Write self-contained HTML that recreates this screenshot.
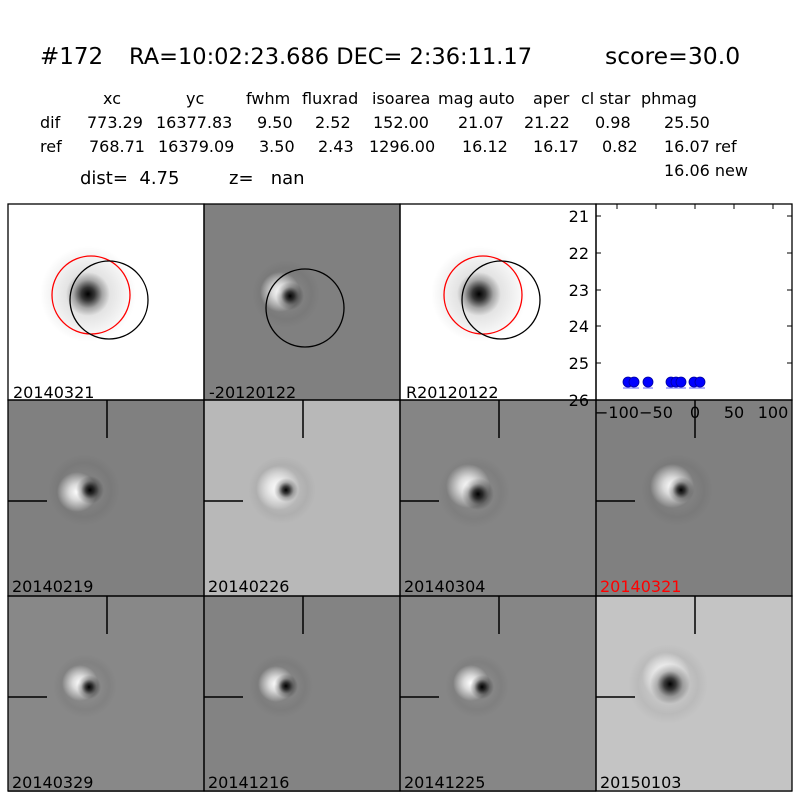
<!DOCTYPE html>
<html><head><meta charset="utf-8"><style>
body{margin:0;background:#fff;}
svg text{font-family:"DejaVu Sans","Liberation Sans",sans-serif;white-space:pre;}
</style></head><body>
<svg width="800" height="800" viewBox="0 0 800 800" xmlns="http://www.w3.org/2000/svg" xml:space="preserve">
<defs>
<radialGradient id="blk"><stop offset="0" stop-color="#000" stop-opacity="1"/><stop offset="0.3" stop-color="#000" stop-opacity="0.75"/><stop offset="0.65" stop-color="#000" stop-opacity="0.25"/><stop offset="1" stop-color="#000" stop-opacity="0"/></radialGradient>
<radialGradient id="wht"><stop offset="0" stop-color="#fff" stop-opacity="1"/><stop offset="0.4" stop-color="#fff" stop-opacity="0.7"/><stop offset="1" stop-color="#fff" stop-opacity="0"/></radialGradient>
<radialGradient id="halo"><stop offset="0" stop-color="#000" stop-opacity="0.2"/><stop offset="1" stop-color="#000" stop-opacity="0"/></radialGradient>
<radialGradient id="dring"><stop offset="0.5" stop-color="#000" stop-opacity="0"/><stop offset="0.75" stop-color="#000" stop-opacity="0.05"/><stop offset="1" stop-color="#000" stop-opacity="0"/></radialGradient>
</defs>
<rect width="800" height="800" fill="#fff"/>
<text x="40" y="64" font-size="23">#172</text>
<text x="129" y="64" font-size="22.5">RA=10:02:23.686 DEC= 2:36:11.17</text>
<text x="605" y="64" font-size="23.5">score=30.0</text>
<g font-size="16">
<text x="103" y="104">xc</text><text x="186" y="104">yc</text><text x="246" y="104">fwhm</text><text x="302" y="104">fluxrad</text><text x="372" y="104">isoarea</text><text x="438" y="104">mag auto</text><text x="533" y="104">aper</text><text x="581" y="104">cl star</text><text x="641" y="104">phmag</text>
<text x="40" y="128">dif</text><text x="87" y="128">773.29</text><text x="156" y="128">16377.83</text><text x="257" y="128">9.50</text><text x="315" y="128">2.52</text><text x="373" y="128">152.00</text><text x="458" y="128">21.07</text><text x="524" y="128">21.22</text><text x="595" y="128">0.98</text><text x="664" y="128">25.50</text>
<text x="40" y="152">ref</text><text x="89" y="152">768.71</text><text x="158" y="152">16379.09</text><text x="259" y="152">3.50</text><text x="318" y="152">2.43</text><text x="369" y="152">1296.00</text><text x="462" y="152">16.12</text><text x="533" y="152">16.17</text><text x="602" y="152">0.82</text><text x="664" y="152">16.07 ref</text>
<text x="664" y="176">16.06 new</text>
</g>
<text x="80" y="184" font-size="18">dist=  4.75</text>
<text x="229" y="184" font-size="18">z=   nan</text>

<rect x="8" y="204" width="196" height="196" fill="#fff"/>
<circle cx="88" cy="294" r="48" fill="url(#halo)"/>
<circle cx="88" cy="294" r="22" fill="url(#blk)"/>
<circle cx="91" cy="295" r="39" fill="none" stroke="#f00" stroke-width="1.3"/>
<circle cx="109" cy="300" r="39" fill="none" stroke="#000" stroke-width="1.3"/>
<rect x="204" y="204" width="196" height="196" fill="#808080"/>
<circle cx="286" cy="294" r="34" fill="url(#dring)"/>
<circle cx="280" cy="292" r="20" fill="url(#wht)"/>
<circle cx="290" cy="296" r="14" fill="url(#blk)"/>
<circle cx="305" cy="308" r="39" fill="none" stroke="#000" stroke-width="1.3"/>
<rect x="400" y="204" width="196" height="196" fill="#fff"/>
<circle cx="479" cy="294" r="48" fill="url(#halo)"/>
<circle cx="479" cy="294" r="22" fill="url(#blk)"/>
<circle cx="483" cy="295" r="39" fill="none" stroke="#f00" stroke-width="1.3"/>
<circle cx="501" cy="300" r="39" fill="none" stroke="#000" stroke-width="1.3"/>
<rect x="596" y="204" width="196" height="196" fill="#fff"/>

<rect x="8" y="400" width="196" height="196" fill="#808080"/>
<circle cx="84" cy="490" r="36" fill="url(#dring)"/>
<circle cx="77" cy="492" r="20" fill="url(#wht)"/>
<circle cx="90" cy="490" r="14" fill="url(#blk)"/>
<rect x="204" y="400" width="196" height="196" fill="#b8b8b8"/>
<circle cx="282" cy="490" r="34" fill="url(#dring)"/>
<circle cx="278" cy="488" r="22" fill="url(#wht)"/>
<circle cx="286" cy="490" r="12" fill="url(#blk)"/>
<rect x="400" y="400" width="196" height="196" fill="#858585"/>
<circle cx="474" cy="492" r="36" fill="url(#dring)"/>
<circle cx="468" cy="486" r="22" fill="url(#wht)"/>
<circle cx="478" cy="494" r="16" fill="url(#blk)"/>
<rect x="596" y="400" width="196" height="196" fill="#808080"/>
<circle cx="677" cy="490" r="36" fill="url(#dring)"/>
<circle cx="672" cy="486" r="22" fill="url(#wht)"/>
<circle cx="681" cy="490" r="13" fill="url(#blk)"/>

<rect x="8" y="596" width="196" height="196" fill="#888"/>
<circle cx="85" cy="686" r="32" fill="url(#dring)"/>
<circle cx="80" cy="683" r="18" fill="url(#wht)"/>
<circle cx="89" cy="687" r="12" fill="url(#blk)"/>
<rect x="204" y="596" width="196" height="196" fill="#838383"/>
<circle cx="281" cy="686" r="32" fill="url(#dring)"/>
<circle cx="276" cy="684" r="18" fill="url(#wht)"/>
<circle cx="286" cy="686" r="12" fill="url(#blk)"/>
<rect x="400" y="596" width="196" height="196" fill="#868686"/>
<circle cx="477" cy="686" r="32" fill="url(#dring)"/>
<circle cx="471" cy="683" r="18" fill="url(#wht)"/>
<circle cx="482" cy="687" r="12" fill="url(#blk)"/>
<rect x="596" y="596" width="196" height="196" fill="#c4c4c4"/>
<circle cx="668" cy="684" r="40" fill="url(#dring)"/>
<circle cx="666" cy="676" r="24" fill="url(#wht)"/>
<circle cx="670" cy="684" r="20" fill="url(#blk)"/>

<g stroke="#000" stroke-width="1.5">
<line x1="107" y1="400" x2="107" y2="438"/><line x1="8" y1="501" x2="47" y2="501"/>
<line x1="303" y1="400" x2="303" y2="438"/><line x1="204" y1="501" x2="243" y2="501"/>
<line x1="499" y1="400" x2="499" y2="438"/><line x1="400" y1="501" x2="439" y2="501"/>
<line x1="695" y1="400" x2="695" y2="438"/><line x1="596" y1="501" x2="635" y2="501"/>
<line x1="107" y1="596" x2="107" y2="634"/><line x1="8" y1="697" x2="47" y2="697"/>
<line x1="303" y1="596" x2="303" y2="634"/><line x1="204" y1="697" x2="243" y2="697"/>
<line x1="499" y1="596" x2="499" y2="634"/><line x1="400" y1="697" x2="439" y2="697"/>
<line x1="695" y1="596" x2="695" y2="634"/><line x1="596" y1="697" x2="635" y2="697"/>
</g>

<g stroke="#000" stroke-width="1">
<line x1="596" y1="216" x2="601" y2="216"/><line x1="596" y1="253" x2="601" y2="253"/><line x1="596" y1="290" x2="601" y2="290"/><line x1="596" y1="326" x2="601" y2="326"/><line x1="596" y1="363" x2="601" y2="363"/>
<line x1="792" y1="216" x2="787" y2="216"/><line x1="792" y1="253" x2="787" y2="253"/><line x1="792" y1="290" x2="787" y2="290"/><line x1="792" y1="326" x2="787" y2="326"/><line x1="792" y1="363" x2="787" y2="363"/>
<line x1="617" y1="204" x2="617" y2="209"/><line x1="656" y1="204" x2="656" y2="209"/><line x1="695" y1="204" x2="695" y2="209"/><line x1="734" y1="204" x2="734" y2="209"/><line x1="773" y1="204" x2="773" y2="209"/>
</g>
<g stroke="#6060ff" stroke-width="1">
<line x1="623" y1="388" x2="639" y2="388"/><line x1="643" y1="388" x2="653" y2="388"/><line x1="666" y1="388" x2="686" y2="388"/><line x1="689" y1="388" x2="705" y2="388"/>
</g>
<g fill="#00f" stroke="#0000a0" stroke-width="0.8">
<circle cx="628" cy="382" r="5"/><circle cx="634" cy="382" r="5"/><circle cx="648" cy="382" r="5"/><circle cx="671" cy="382" r="5"/><circle cx="676" cy="382" r="5"/><circle cx="681" cy="382" r="5"/><circle cx="694" cy="382" r="5"/><circle cx="700" cy="382" r="5"/>
</g>
<g font-size="16" text-anchor="end">
<text x="589" y="222">21</text><text x="589" y="259">22</text><text x="589" y="296">23</text><text x="589" y="332">24</text><text x="589" y="369">25</text><text x="589" y="406">26</text>
</g>
<g font-size="16" text-anchor="middle">
<text x="617" y="418">−100</text><text x="656" y="418">−50</text><text x="695" y="418">0</text><text x="734" y="418">50</text><text x="773" y="418">100</text>
</g>

<g fill="none" stroke="#000" stroke-width="1.3">
<rect x="8" y="204" width="196" height="196"/><rect x="204" y="204" width="196" height="196"/><rect x="400" y="204" width="196" height="196"/><rect x="596" y="204" width="196" height="196"/>
<rect x="8" y="400" width="196" height="196"/><rect x="204" y="400" width="196" height="196"/><rect x="400" y="400" width="196" height="196"/><rect x="596" y="400" width="196" height="196"/>
<rect x="8" y="596" width="196" height="195"/><rect x="204" y="596" width="196" height="195"/><rect x="400" y="596" width="196" height="195"/><rect x="596" y="596" width="196" height="195"/>
</g>

<g font-size="16">
<text x="13" y="398">20140321</text><text x="209" y="398">-20120122</text><text x="406" y="398">R20120122</text>
<text x="12" y="592">20140219</text><text x="208" y="592">20140226</text><text x="404" y="592">20140304</text><text x="600" y="592" fill="#f00">20140321</text>
<text x="12" y="788">20140329</text><text x="208" y="788">20141216</text><text x="404" y="788">20141225</text><text x="600" y="788">20150103</text>
</g>
</svg>
</body></html>
